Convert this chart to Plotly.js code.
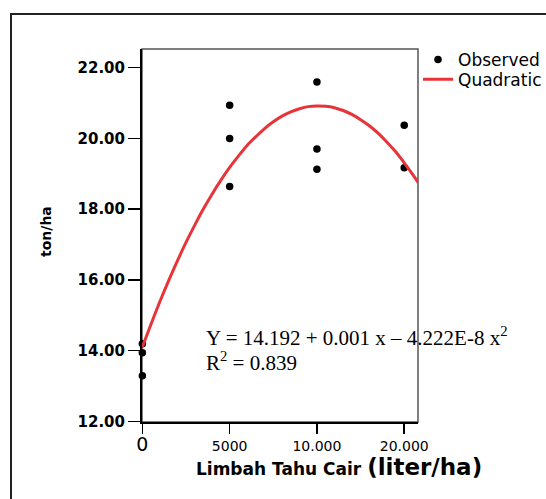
<!DOCTYPE html>
<html>
<head>
<meta charset="utf-8">
<script src="https://cdn.plot.ly/plotly-3.0.1.min.js"></script>
<style>
  html, body { margin: 0; padding: 0; background: #fff; }
  #chart { width: 546px; height: 499px; }
</style>
</head>
<body>
<div id="chart"></div>
<script>
// Tick positions on the (evenly spaced) x axis and their printed labels
const tickPos = [0, 5000, 10000, 15000];
const tickLabels = ["0", "5000", "10.000", "20.000"];

// Observed points (x = axis position of the dose group)
const obsX = [0, 0, 0, 5000, 5000, 5000, 10000, 10000, 10000, 15000, 15000];
const obsY = [14.19, 13.94, 13.29, 20.94, 20.00, 18.64, 21.60, 19.70, 19.13, 20.37, 19.17];

// Quadratic fit curve
const fitX = [0, 500, 1000, 1500, 2000, 2500, 3000, 3500, 4000, 4500, 5000, 5500, 6000, 6500, 7000, 7500,
              8000, 8500, 9000, 9500, 10000, 10500, 11000, 11500, 12000, 12500, 13000, 13500, 14000, 14500,
              15000, 15500, 15800];
const fitY = [14.10, 14.75, 15.38, 15.97, 16.53, 17.06, 17.55, 18.01, 18.43, 18.82, 19.18, 19.50, 19.80, 20.05,
              20.28, 20.47, 20.63, 20.75, 20.84, 20.90, 20.92, 20.91, 20.87, 20.79, 20.68, 20.53, 20.36, 20.15,
              19.90, 19.63, 19.31, 18.97, 18.75];

const yTicks = [12, 14, 16, 18, 20, 22];
const yTickLabels = ["12.00", "14.00", "16.00", "18.00", "20.00", "22.00"];

const eqLine1 = "Y = 14.192 + 0.001 x \u2013 4.222E-8 x<sup>2</sup>";
const eqLine2 = "R<sup>2</sup> = 0.839";

const ticktext = tickLabels.map((t, i) => i === 0 ? '<span style="font-size:19px">' + t + '</span>' : t);

const traces = [
  {
    x: obsX, y: obsY, type: 'scatter', mode: 'markers', name: 'Observed',
    marker: { color: '#000', size: 7.5 }, cliponaxis: false, legend: 'legend'
  },
  {
    x: fitX, y: fitY, type: 'scatter', mode: 'lines', name: 'Quadratic',
    line: { color: 'rgb(232,52,56)', width: 3, shape: 'spline' }, legend: 'legend2'
  }
];

const layout = {
  width: 546, height: 499,
  margin: { l: 142, r: 128, t: 49, b: 77, autoexpand: false },
  paper_bgcolor: '#fff', plot_bgcolor: '#fff',
  font: { family: 'DejaVu Sans', color: '#000' },
  showlegend: true,
  xaxis: {
    range: [-20, 15788], showgrid: false, zeroline: false, automargin: false,
    tickmode: 'array', tickvals: tickPos, ticktext: ticktext,
    ticks: 'outside', ticklen: 10, tickwidth: 1.5, tickcolor: '#000',
    showline: true, linecolor: '#000', linewidth: 2,
    tickfont: { family: 'DejaVu Sans', size: 14, color: '#000' }
  },
  yaxis: {
    range: [11.98, 22.53], showgrid: false, zeroline: false, automargin: false,
    tickmode: 'array', tickvals: yTicks, ticktext: yTickLabels,
    ticks: 'outside', ticklen: 12, tickwidth: 1.5, tickcolor: '#000',
    showline: true, linecolor: '#000', linewidth: 2,
    tickfont: { family: 'DejaVu Sans', size: 15, color: '#000', weight: 'bold' }
  },
  legend: {
    x: 1.0, xanchor: 'left', y: 0.9705, yanchor: 'middle',
    bgcolor: 'rgba(0,0,0,0)', borderwidth: 0,
    font: { family: 'DejaVu Sans', size: 17, color: '#000' }
  },
  legend2: {
    x: 1.0, xanchor: 'left', y: 0.918, yanchor: 'middle',
    bgcolor: 'rgba(0,0,0,0)', borderwidth: 0,
    font: { family: 'DejaVu Sans', size: 17, color: '#000' }
  },
  shapes: [
    { type: 'rect', xref: 'paper', yref: 'paper', x0: 0, x1: 1, y0: 0, y1: 1,
      line: { color: '#555', width: 1.5 }, layer: 'below' },
    { type: 'rect', xref: 'paper', yref: 'paper', x0: -0.4746, x1: 1.6, y0: -0.4, y1: 1.0938,
      line: { color: '#222', width: 2 } }
  ],
  annotations: [
    { text: eqLine1, xref: 'paper', yref: 'paper', x: 0.2235, y: 0.2287, xanchor: 'left', yanchor: 'middle',
      showarrow: false, font: { family: 'Liberation Serif', size: 21, color: '#000' } },
    { text: eqLine2, xref: 'paper', yref: 'paper', x: 0.2235, y: 0.1617, xanchor: 'left', yanchor: 'middle',
      showarrow: false, font: { family: 'Liberation Serif', size: 21, color: '#000' } },
    { text: '<b>Limbah Tahu Cair <span style="font-size:23px">(liter/ha)</span></b>', xref: 'paper', yref: 'paper',
      x: 0.1875, y: -0.1206, xanchor: 'left', yanchor: 'middle', showarrow: false,
      font: { family: 'DejaVu Sans', size: 17, color: '#000' } },
    { text: '<b>ton/ha</b>', xref: 'paper', yref: 'paper', x: -0.3478, y: 0.5094, textangle: -90,
      xanchor: 'center', yanchor: 'middle', showarrow: false,
      font: { family: 'DejaVu Sans', size: 14, color: '#000' } }
  ]
};

Plotly.newPlot('chart', traces, layout, { displayModeBar: false, staticPlot: true });
</script>
</body>
</html>
